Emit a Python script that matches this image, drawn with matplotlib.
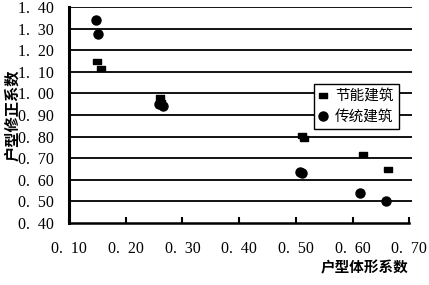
import numpy as np
import matplotlib.pyplot as plt
from matplotlib.ticker import FixedLocator

plt.rcParams['font.family'] = ['Liberation Serif', 'Noto Sans CJK SC']

# 节能建筑
jn_x = [0.150, 0.156, 0.260, 0.263, 0.511, 0.515, 0.618, 0.663]
jn_y = [1.152, 1.118, 0.982, 0.960, 0.808, 0.795, 0.718, 0.652]
# 传统建筑
ct_x = [0.147, 0.152, 0.259, 0.266, 0.507, 0.511, 0.613, 0.659]
ct_y = [1.341, 1.275, 0.952, 0.940, 0.636, 0.631, 0.539, 0.500]

x_ticks = [0.1, 0.2, 0.3, 0.4, 0.5, 0.6, 0.7]
y_ticks = [0.4, 0.5, 0.6, 0.7, 0.8, 0.9, 1.0, 1.1, 1.2, 1.3, 1.4]

fig = plt.figure(figsize=(4.29, 2.85), dpi=100)
ax = fig.add_axes([69/429, 1 - 223/285, (412 - 69)/429, (223 - 7)/285])

# gridlines run a bit past 0.70
ax.set_xlim(0.1, 0.1 + (412 - 69) / 567 * 1.0)
ax.set_ylim(0.4, 1.4)

for v in y_ticks[1:]:
    ax.axhline(v, color='black', lw=1.3, zorder=1)

rect = [(-1, -0.6), (1, -0.6), (1, 0.6), (-1, 0.6), (-1, -0.6)]
ax.plot(jn_x, jn_y, linestyle='none', marker=rect, markersize=6,
        color='black', label='节能建筑', zorder=3)
ax.plot(ct_x, ct_y, linestyle='none', marker='o', markersize=6.5,
        color='black', label='传统建筑', zorder=3)

ax.spines['top'].set_visible(False)
ax.spines['right'].set_visible(False)
ax.spines['left'].set_linewidth(2.2)
ax.spines['bottom'].set_linewidth(1.8)
ax.spines['bottom'].set_bounds(0.1, 0.7)

ax.xaxis.set_major_locator(FixedLocator(x_ticks))
ax.yaxis.set_major_locator(FixedLocator(y_ticks))
ax.set_xticklabels(['0.\u2002%02d' % round(v * 100) for v in x_ticks])
ax.set_yticklabels(['%d.\u2002%02d' % (int(v + 1e-9), round(v * 100) % 100) for v in y_ticks])
ax.tick_params(axis='x', direction='in', length=4, width=1.5, pad=13, labelsize=11.5)
ax.tick_params(axis='y', length=0, pad=11, labelsize=11.5)

ax.text(-0.165, 0.5, '户型修正系数', transform=ax.transAxes, rotation=90,
        ha='center', va='center', fontsize=11, fontweight='bold')
fig.text(408/429, 1 - 268/285, '户型体形系数', ha='right', va='center',
         fontsize=10.5, fontweight='bold')

leg = ax.legend(loc='upper left', bbox_to_anchor=((314 - 69)/343, 1 - (84 - 7)/216),
                frameon=True, fancybox=False, edgecolor='black', framealpha=1,
                handlelength=0.6, handletextpad=0.5, borderpad=0.35,
                labelspacing=0.5, fontsize=10.5, borderaxespad=0)
leg.get_frame().set_linewidth(1.0)

fig.savefig('out.png', dpi=100)
